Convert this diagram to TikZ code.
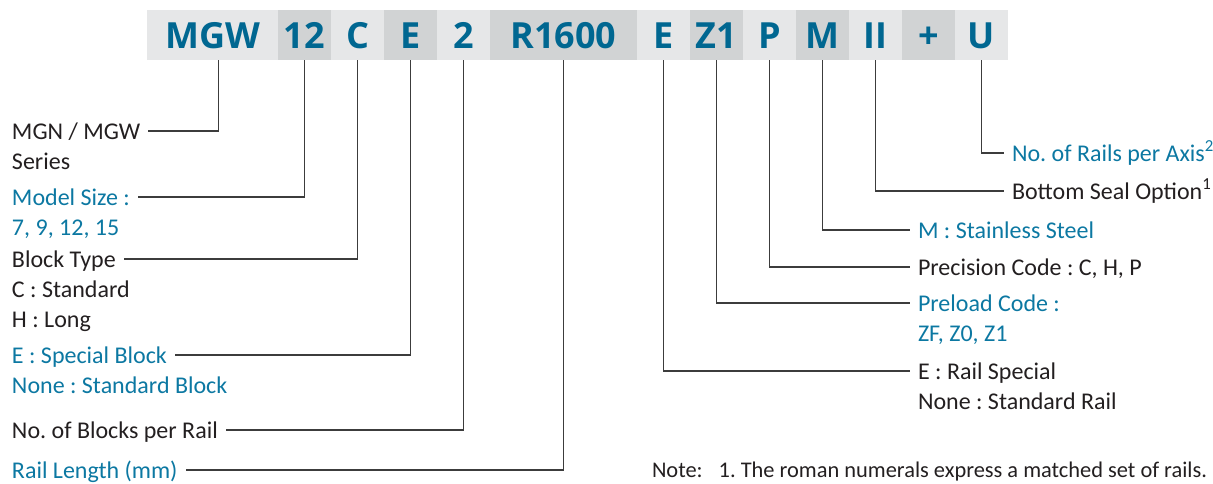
\documentclass[tikz,border=0pt]{standalone}
\usepackage{fontspec}
\setmainfont{Carlito}
\newfontfamily\headfont{Open Sans}
\usetikzlibrary{positioning}
\definecolor{codeblue}{RGB}{0,103,145}
\definecolor{txtblue}{RGB}{12,120,162}
\definecolor{txtgray}{RGB}{35,31,32}
\definecolor{boxlight}{RGB}{230,231,232}
\definecolor{boxdark}{RGB}{209,211,212}
\definecolor{leadgray}{RGB}{60,60,60}
\frenchspacing

\begin{document}
\begin{tikzpicture}[x=1pt,y=1pt,yscale=-1,
  code/.style={fill=boxlight, text=codeblue, font=\headfont\bfseries\fontsize{36pt}{36pt}\selectfont,
    minimum width=53pt, minimum height=50pt, inner sep=0pt, outer sep=0pt, text height=26pt, text depth=0pt},
  dark/.style={fill=boxdark},
  lbl/.style={font=\fontsize{24pt}{28pt}\selectfont, text=txtgray, inner sep=0pt,
    outer xsep=8pt, outer ysep=0pt, text height=18pt, text depth=2pt},
  blu/.style={text=txtblue},
  nextline/.style={below right=10pt and 0pt of #1.south west},
  lead/.style={draw=leadgray, line width=1.3pt}
]
\useasboundingbox (0,0) rectangle (1213,483);

% code boxes
\node[code, minimum width=131pt, anchor=north west] (mgw) at (147,10) {MGW};
\node[code, dark, right=0pt of mgw] (size) {12};
\node[code, right=0pt of size] (type) {C};
\node[code, dark, right=0pt of type] (blk) {E};
\node[code, right=0pt of blk] (nblk) {2};
\node[code, dark, minimum width=147pt, right=0pt of nblk] (len) {R1600};
\node[code, right=0pt of len] (rail) {E};
\node[code, dark, right=0pt of rail] (pre) {Z1};
\node[code, right=0pt of pre] (prec) {P};
\node[code, dark, right=0pt of prec] (mat) {M};
\node[code, right=0pt of mat] (seal) {II};
\node[code, dark, right=0pt of seal] (plus) {+};
\node[code, right=0pt of plus] (axis) {U};

% left labels
\node[lbl, anchor=west] (ser) at (4,131) {MGN / MGW};
\node[lbl, nextline=ser] (ser2) {Series};
\node[lbl, blu, anchor=west] (msize) at (4,197) {Model Size :};
\node[lbl, blu, nextline=msize] (msize2) {7, 9, 12, 15};
\node[lbl, anchor=west] (btype) at (4,259) {Block Type};
\node[lbl, nextline=btype] (btype2) {C : Standard};
\node[lbl, nextline=btype2] (btype3) {H : Long};
\node[lbl, blu, anchor=west] (sblk) at (4,355) {E : Special Block};
\node[lbl, blu, nextline=sblk] (sblk2) {None : Standard Block};
\node[lbl, anchor=west] (nper) at (4,430) {No. of Blocks per Rail};
\node[lbl, blu, anchor=west] (rlen) at (4,470) {Rail Length (mm)};

% right labels
\node[lbl, blu, anchor=west] (naxis) at (1004,153) {No. of Rails per Axis\textsuperscript{2}};
\node[lbl, anchor=west] (bseal) at (1004,191) {Bottom Seal Option\textsuperscript{1}};
\node[lbl, blu, anchor=west] (stain) at (910,230) {M : Stainless Steel};
\node[lbl, anchor=west] (pcode) at (910,267) {Precision Code : C, H, P};
\node[lbl, blu, anchor=west] (lcode) at (910,303) {Preload Code :};
\node[lbl, blu, nextline=lcode] (lcode2) {ZF, Z0, Z1};
\node[lbl, anchor=west] (rspec) at (910,371) {E : Rail Special};
\node[lbl, nextline=rspec] (rspec2) {None : Standard Rail};
\node[lbl, anchor=west, outer xsep=0pt, font=\fontsize{22.4pt}{26pt}\selectfont] (note) at (652,469)
  {Note:\hspace{16pt}1. The roman numerals express a matched set of rails.};

% leaders
\draw[lead] ([xshift=6pt]mgw.south) |- (ser.east);
\draw[lead] (size.south) |- (msize.east);
\draw[lead] (type.south) |- (btype.east);
\draw[lead] (blk.south) |- (sblk.east);
\draw[lead] (nblk.south) |- (nper.east);
\draw[lead] (len.south) |- (rlen.east);
\draw[lead] (rail.south) |- (rspec.west);
\draw[lead] (pre.south) |- (lcode.west);
\draw[lead] (prec.south) |- (pcode.west);
\draw[lead] (mat.south) |- (stain.west);
\draw[lead] (seal.south) |- (bseal.west);
\draw[lead] (axis.south) |- (naxis.west);

\end{tikzpicture}
\end{document}
